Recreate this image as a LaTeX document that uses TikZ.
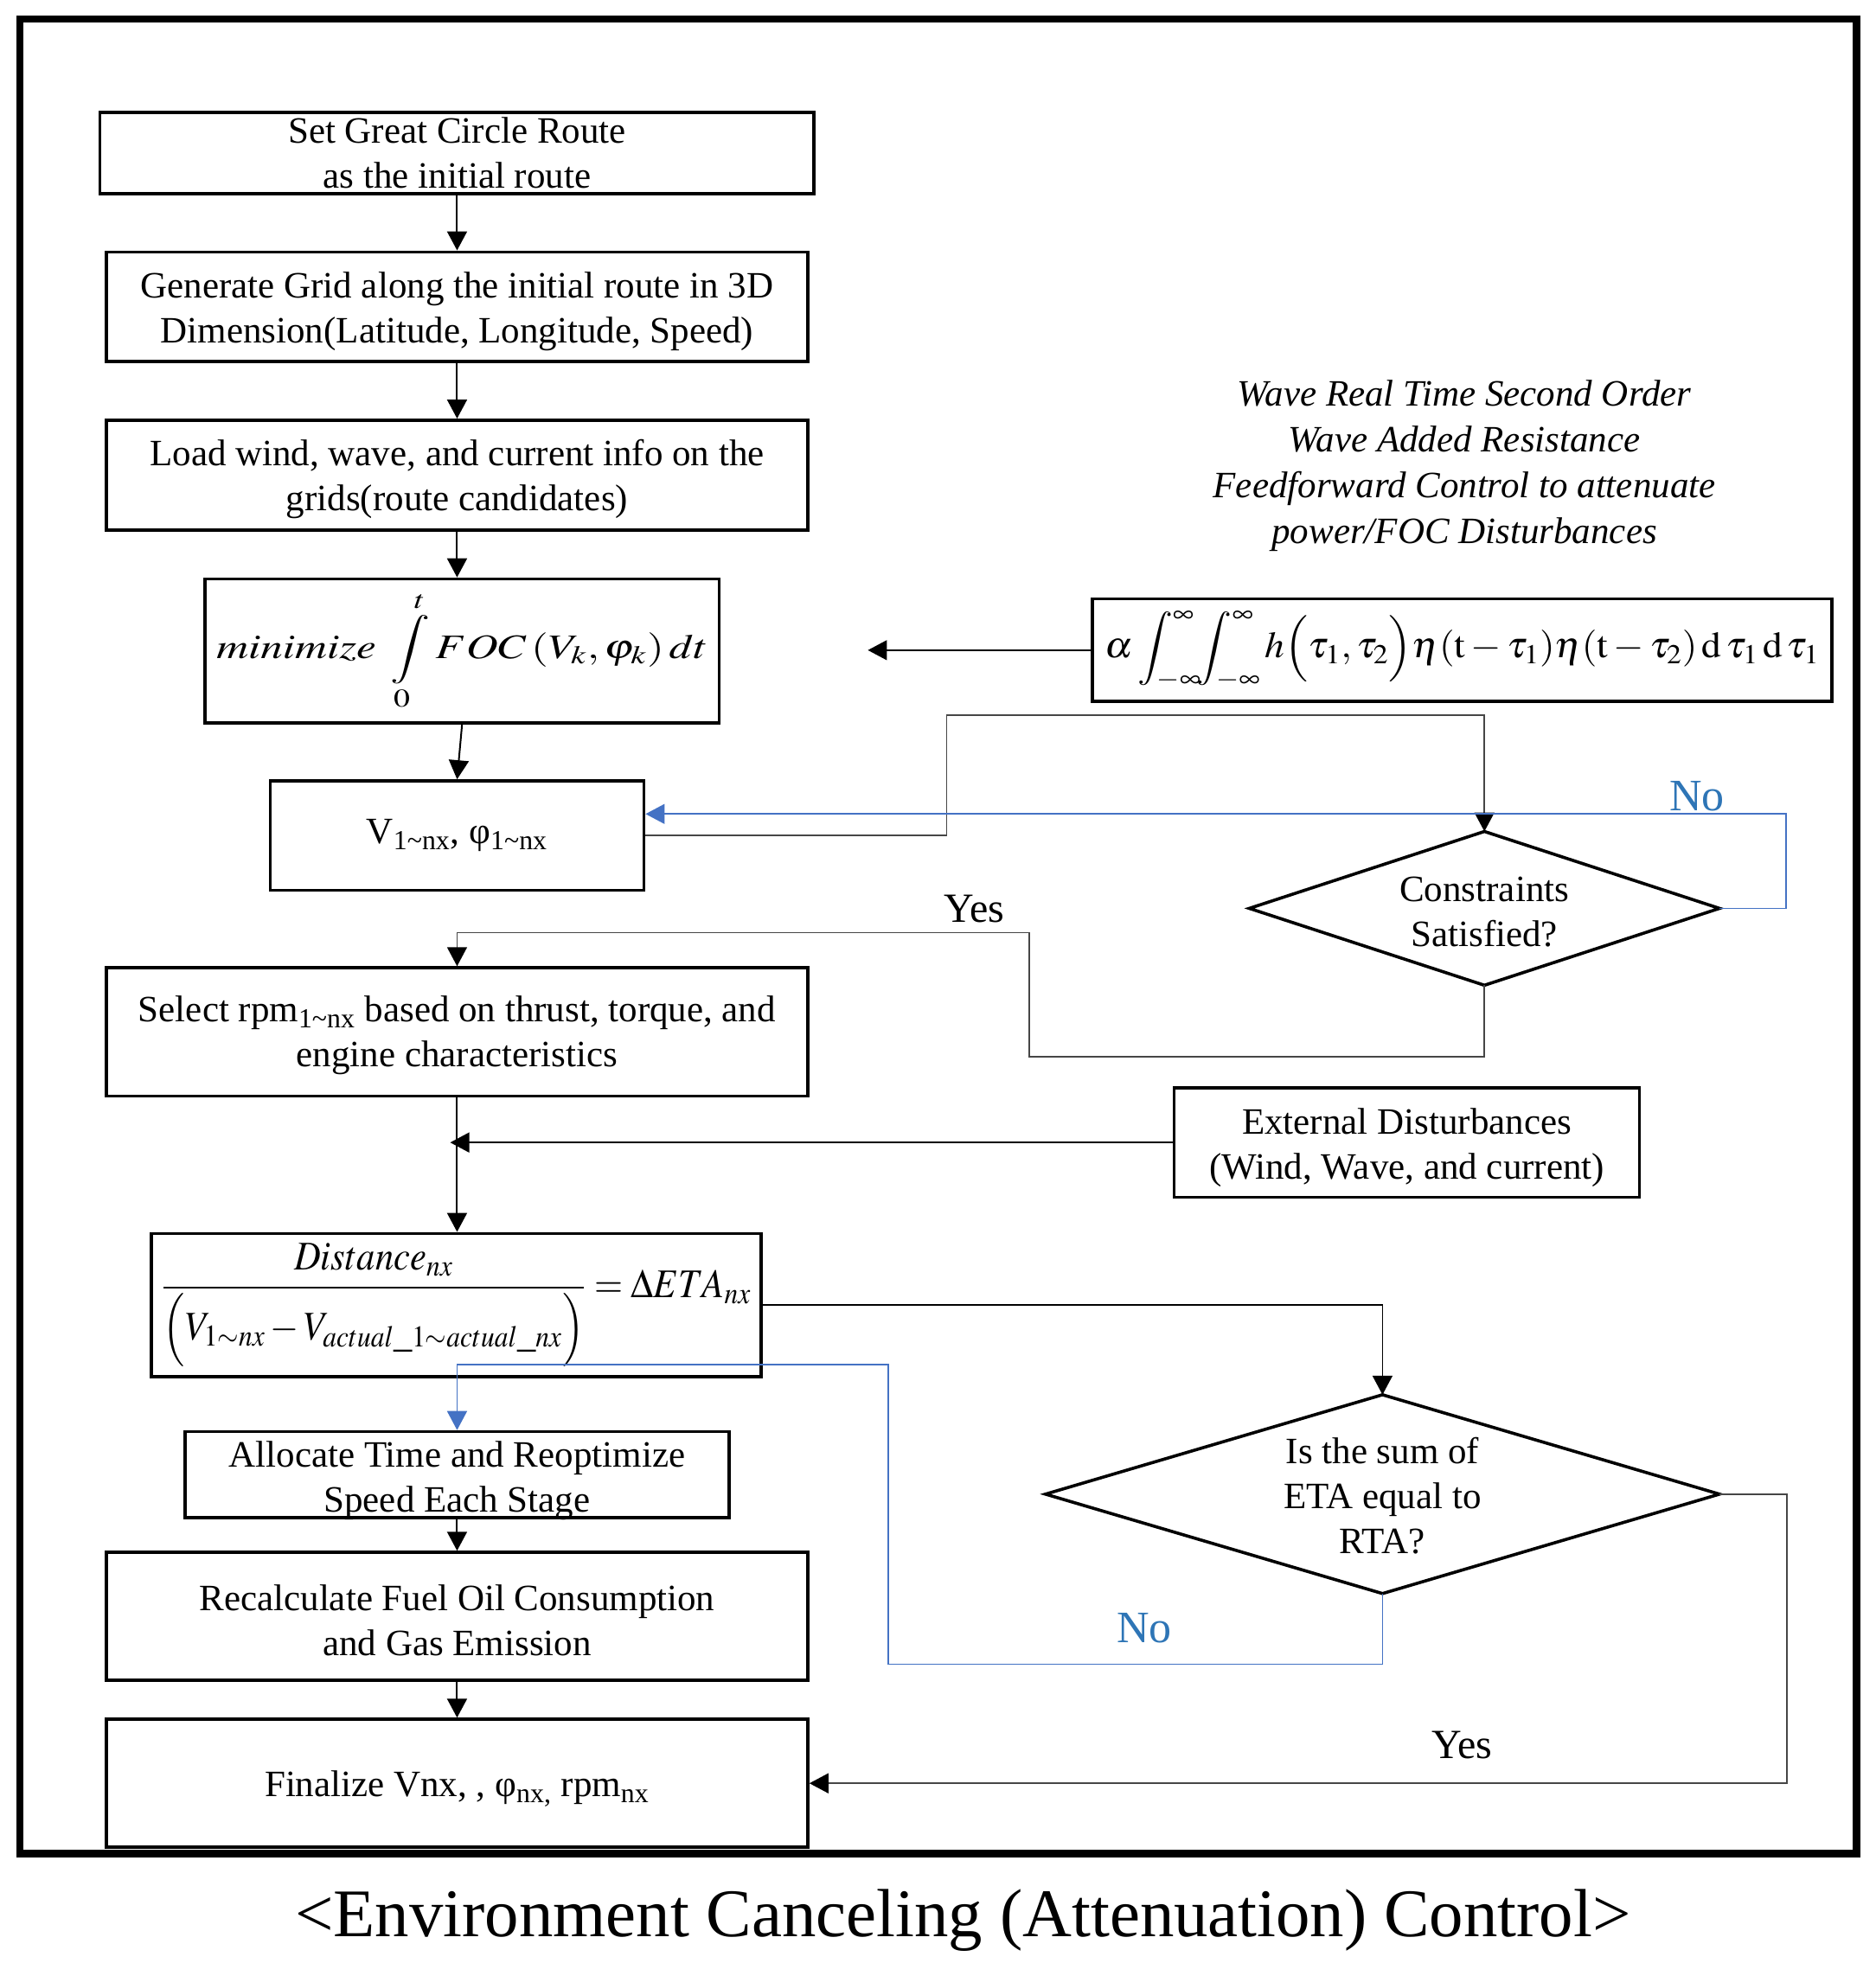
\documentclass[tikz,border=0pt]{standalone}
\usepackage{mathptmx}
\usepackage{fontspec}
\setmainfont{Liberation Serif}
\usepackage{graphicx}
\usetikzlibrary{arrows.meta,shapes.geometric,calc}
\definecolor{fbblue}{RGB}{68,114,196}
\definecolor{notext}{RGB}{46,117,182}
\definecolor{fbgray}{RGB}{70,70,70}
\begin{document}
\begin{tikzpicture}[x=0.723pt,y=-0.723pt,
  every node/.style={font=\fontsize{21.5}{26}\selectfont},
  box/.style 2 args={draw, line width=1.8pt, inner sep=0pt, align=center,
    minimum width=#1*0.723pt, minimum height=#2*0.723pt},
  dia/.style={draw, diamond, line width=1.8pt, inner sep=0pt, outer sep=0pt},
  tip/.style={-{Triangle[length=11pt,width=11.5pt,color=#1]}},
  flow/.style={line width=1pt, tip=black},
  fb/.style={line width=0.8pt, draw=fbgray},
  fbarrow/.style={fb, tip=black},
  bluearrow/.style={line width=0.8pt, draw=fbblue, tip=fbblue},
  lbl/.style={inner sep=0pt, font=\fontsize{24}{28}\selectfont},
  nolbl/.style={inner sep=0pt, text=notext, font=\fontsize{26}{30}\selectfont},
  txt/.style={inner sep=0pt, align=center},
]
\useasboundingbox (0,0) rectangle (1500,1570);
\draw[line width=4.1pt] (16,15) rectangle (1484.5,1482.5);

% left column boxes
\node[box={571}{65}] (b1) at (365.5,122.5) {};
\node[box={561}{87.5}] (b2) at (365.5,245.25) {};
\node[box={561}{88}] (b3) at (365.5,380) {};
\node[box={411}{115}] (b4) at (369.5,520.5) {\resizebox*{284pt}{69pt}{$minimize\;\displaystyle\int\limits_0^t FOC\left(V_k,\varphi_k\right)dt$}};
\node[box={299}{87.5}] (b5) at (365.5,668.25) {V\textsubscript{1\textasciitilde nx}, φ\textsubscript{1\textasciitilde nx}};
\node[box={561}{102.5}] (b6) at (365.5,825.25) {};
\node[box={487.6}{114.5}] (b7) at (364.8,1043.75) {\resizebox*{341pt}{71pt}{$\displaystyle\frac{Distance_{nx}}{\Bigl(V_{1\sim nx}-V_{actual\_1\sim actual\_nx}\Bigr)}=\Delta ETA_{nx}$}};
\node[box={435}{69}] (b8) at (365.5,1179.5) {};
\node[box={561}{102.5}] (b9) at (365.5,1292.75) {};
\node[box={561}{102.5}] (b10) at (365.5,1426.25) {};

% left column texts
\node[txt] (t1) at (b1.center) {Set Great Circle Route\\as the initial route};
\node[txt] (t2) at ($(b2.center)+(0,4)$) {Generate Grid along the initial route in 3D\\Dimension(Latitude, Longitude, Speed)};
\node[txt] (t3) at ($(b3.center)+(0,3)$) {Load wind, wave, and current info on the\\grids(route candidates)};
\node[txt] (t6) at ($(b6.center)+(0,3)$) {Select rpm\textsubscript{1\textasciitilde nx} based on thrust, torque, and\\engine characteristics};
\node[txt] (t8) at ($(b8.center)+(0,4.5)$) {Allocate Time and Reoptimize\\Speed Each Stage};
\node[txt] (t9) at ($(b9.center)+(0,3)$) {Recalculate Fuel Oil Consumption\\and Gas Emission};
\node[txt] (t10) at ($(b10.center)+(0,4.5)$) {Finalize Vnx, , φ\textsubscript{nx,} rpm\textsubscript{nx}};

% right column
\node[txt, font=\fontsize{21.5}{26.5}\selectfont\itshape] (note) at (1171,372.5) {Wave Real Time Second Order\\Wave Added Resistance\\Feedforward Control to attenuate\\power/FOC Disturbances};
\node[box={591.3}{82}] (alpha) at (1169.35,520) {\resizebox*{413pt}{45pt}{$\alpha\displaystyle\int_{-\infty}^{\infty}\!\!\int_{-\infty}^{\infty} h\Bigl(\tau_1,\tau_2\Bigr)\eta(\mathrm{t}-\tau_1)\eta(\mathrm{t}-\tau_2)\,\mathrm{d}\,\tau_1\,\mathrm{d}\,\tau_1$}};
\node[dia, minimum width=376*0.723pt, minimum height=123*0.723pt] (cons) at (1187,726.5) {};
\node[txt] (constxt) at ($(cons.center)+(0,3)$) {Constraints\\Satisfied?};
\node[box={372}{87.5}] (ext) at (1125,913.75) {};
\node[txt] (exttxt) at ($(ext.center)+(0,4)$) {External Disturbances\\(Wind, Wave, and current)};
\node[dia, minimum width=539*0.723pt, minimum height=159*0.723pt] (eta) at (1105.5,1195) {};
\node[txt] (etatxt) at ($(eta.center)+(0,1.5)$) {Is the sum of\\ETA equal to\\RTA?};

% labels
\node[lbl] (yes1) at (779,727) {Yes};
\node[nolbl] (no1) at (1357,637) {No};
\node[nolbl] (no2) at (915,1302) {No};
\node[lbl] (yes2) at (1169,1396) {Yes};
\node[inner sep=0pt, font=\fontsize{39.4}{44}\selectfont] (cap) at (770,1536) {<Environment Canceling (Attenuation) Control>};

% helper coordinates
\coordinate (aend) at (694,520);
\coordinate (c1) at (757,572);
\coordinate (c2) at (1428,651);
\coordinate (c3) at (823,845);
\coordinate (c4) at (823,746);
\coordinate (j1) at (360,913.75);
\coordinate (c5) at (710.5,1331);
\coordinate (c6) at (710.5,1091.5);
\coordinate (c7) at (1428.8,1426.25);

% main flow
\draw[flow] (b1.south) -- (b2.north);
\draw[flow] (b2.south) -- (b3.north);
\draw[flow] (b3.south) -- (b3.south |- b4.north);
\draw[flow] (b4.south) -- (b5.north);
\draw[flow] (b6.south) -- (b6.south |- b7.north);
\draw[flow] (b8.south) -- (b9.north);
\draw[flow] (b9.south) -- (b10.north);

% side connectors
\draw[fbarrow, draw=black] (alpha.west) -- (aend);
\draw[fbarrow] (b5.east) -| (c1) -| (cons.north);
\draw[bluearrow] (cons.east) -| (c2) -- (b5.east |- c2);
\draw[fbarrow] (cons.south) |- (c3) -- (c4) -| (b6.north);
\draw[fbarrow, draw=black] (ext.west) -- (j1);
\draw[fbarrow, draw=black] (b7.east) -| (eta.north);
\draw[bluearrow] (eta.south) |- (c5) -- (c6) -| (b8.north);
\draw[fbarrow] (eta.east) -| (c7) -- (b10.east);
\end{tikzpicture}
\end{document}
